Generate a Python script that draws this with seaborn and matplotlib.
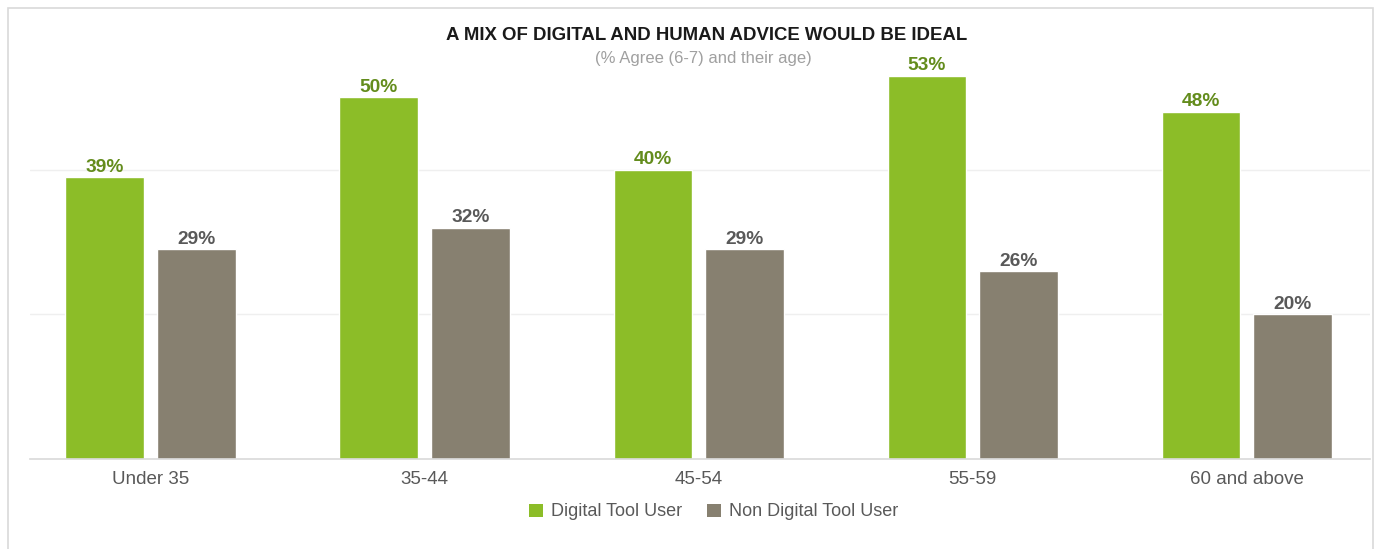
import matplotlib
matplotlib.use("Agg")
import matplotlib.pyplot as plt
import seaborn as sns
import pandas as pd
from matplotlib.patches import Rectangle, Patch

age_groups = ["Under 35", "35-44", "45-54", "55-59", "60 and above"]
digital_users = [39, 50, 40, 53, 48]
non_digital_users = [29, 32, 29, 26, 20]
series_names = ["Digital Tool User", "Non Digital Tool User"]
series_colors = ["#8CBD28", "#878070"]
label_colors = ["#638C1C", "#595959"]

sns.set_theme(style="white")
plt.rcParams["font.family"] = ["Liberation Sans", "DejaVu Sans"]

df = pd.DataFrame({
    "age": age_groups * 2,
    "value": digital_users + non_digital_users,
    "series": [series_names[0]] * len(age_groups) + [series_names[1]] * len(age_groups),
})

W, H = 1381, 549
fig = plt.figure(figsize=(W / 100, H / 100), dpi=100)
ax = fig.add_axes([30 / W, 90 / H, 1340 / W, 434 / H])

sns.barplot(data=df, x="age", y="value", hue="series", order=age_groups,
            hue_order=series_names, palette=series_colors, saturation=1,
            width=0.668, gap=0.14, ax=ax, legend=False)

for cont, col in zip(ax.containers, label_colors):
    ax.bar_label(cont, labels=[f"{v:.0f}%" for v in cont.datavalues],
                 padding=1, fontsize=13.8, fontweight="bold", color=col)

ax.set_xlim(-0.44, 4.45)
ax.set_ylim(0, 60)
ax.set_yticks([20, 40])
ax.yaxis.grid(True, color="#EFEFEF", lw=1)
ax.set_axisbelow(True)
ax.tick_params(axis="y", length=0, labelleft=False)
ax.tick_params(axis="x", length=0, pad=9, labelsize=13.5, labelcolor="#595959")
ax.set_xlabel("")
ax.set_ylabel("")
for side in ["top", "left", "right"]:
    ax.spines[side].set_visible(False)
ax.spines["bottom"].set_color("#D9D9D9")
ax.spines["bottom"].set_linewidth(1.2)

fig.text(706.5 / W, 1 - 36 / H, "A MIX OF DIGITAL AND HUMAN ADVICE WOULD BE IDEAL",
         ha="center", va="center", fontsize=13.4, fontweight="bold", color="#1A1A1A")
fig.text(703 / W, 1 - 59 / H, "(% Agree (6-7) and their age)",
         ha="center", va="center", fontsize=12, color="#A0A0A0")

handles = [Patch(facecolor=c, edgecolor="none", label=n) for c, n in zip(series_colors, series_names)]
fig.legend(handles=handles, loc="center", bbox_to_anchor=(713.5 / W, 1 - 512 / H),
           ncol=2, frameon=False, fontsize=13, labelcolor="#595959",
           handlelength=0.75, handleheight=0.75, handletextpad=0.45, columnspacing=1.4)

fig.add_artist(Rectangle((8 / W, -0.05), (1373 - 8) / W, (H - 8) / H + 0.05,
                         transform=fig.transFigure, fill=False,
                         edgecolor="#D9D9D9", lw=1.2))

fig.savefig("out.png", dpi=100, facecolor="white")
